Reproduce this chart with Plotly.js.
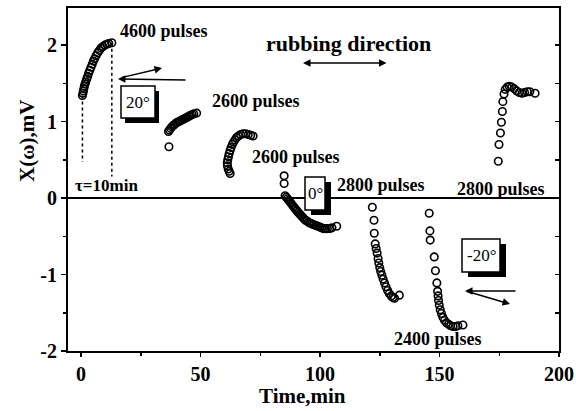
<!DOCTYPE html>
<html>
<head>
<meta charset="utf-8">
<script src="https://cdn.plot.ly/plotly-3.0.1.min.js"></script>
<style>html,body{margin:0;padding:0;background:#fff;}#chart{width:576px;height:411px;}</style>
</head>
<body>
<div id="chart"></div>
<script>
// ---- data (Time in min, X(omega) in mV) ----
const seg1X = [0.6, 0.8, 1.0, 1.2, 1.4, 1.7, 2.0, 2.4, 2.8, 3.2, 3.7, 4.2, 4.7, 5.2, 5.7, 6.3, 7.0, 7.7, 8.4, 9.2, 10.0, 10.8, 11.6, 12.9];
const seg1Y = [1.34, 1.37, 1.40, 1.43, 1.46, 1.49, 1.52, 1.56, 1.59, 1.63, 1.67, 1.71, 1.75, 1.79, 1.82, 1.86, 1.90, 1.93, 1.96, 1.98, 2.00, 2.01, 2.02, 2.03];

const seg2X = [36.8, 36.6, 37.0, 37.5, 38.0, 38.6, 39.2, 39.8, 40.4, 41.0, 41.6, 42.2, 42.8, 43.4, 44.0, 44.6, 45.2, 45.8, 46.5, 47.2, 48.4];
const seg2Y = [0.67, 0.87, 0.89, 0.91, 0.93, 0.95, 0.96, 0.98, 0.99, 1.00, 1.01, 1.02, 1.03, 1.04, 1.05, 1.06, 1.07, 1.08, 1.09, 1.10, 1.11];

const seg3X = [62.4, 62.0, 61.6, 61.3, 61.2, 61.4, 61.7, 62.0, 62.4, 62.8, 63.3, 63.8, 64.4, 65.1, 65.9, 66.8, 67.8, 68.9, 70.0, 71.0, 72.0];
const seg3Y = [0.32, 0.35, 0.38, 0.42, 0.46, 0.50, 0.54, 0.58, 0.62, 0.66, 0.70, 0.73, 0.76, 0.79, 0.81, 0.83, 0.84, 0.84, 0.83, 0.82, 0.81];

const seg4X = [85.0, 85.0, 85.4, 85.9, 86.4, 86.9, 87.4, 87.9, 88.4, 88.9, 89.4, 89.9, 90.4, 90.9, 91.5, 92.1, 92.7, 93.3, 93.9, 94.6, 95.3, 96.0, 96.7, 97.5, 98.3, 99.1, 99.9, 100.7, 101.5, 102.3, 103.1, 104.0, 105.0, 107.0];
const seg4Y = [0.29, 0.19, 0.03, 0.01, -0.01, -0.03, -0.05, -0.07, -0.09, -0.11, -0.13, -0.15, -0.17, -0.19, -0.21, -0.23, -0.25, -0.27, -0.29, -0.30, -0.32, -0.33, -0.34, -0.35, -0.36, -0.37, -0.38, -0.39, -0.40, -0.40, -0.40, -0.40, -0.39, -0.37];

const seg5X = [121.9, 122.6, 122.7, 123.1, 123.5, 123.9, 124.3, 124.6, 125.0, 125.4, 125.9, 126.4, 127.0, 127.6, 128.3, 129.0, 129.8, 130.5, 131.2, 133.2];
const seg5Y = [-0.12, -0.29, -0.46, -0.60, -0.66, -0.72, -0.79, -0.85, -0.91, -0.96, -1.01, -1.06, -1.11, -1.16, -1.21, -1.25, -1.28, -1.30, -1.31, -1.27];

const seg6X = [145.7, 146.0, 146.1, 147.8, 148.3, 148.9, 149.2, 149.4, 149.6, 149.9, 150.3, 150.8, 151.4, 152.1, 152.9, 153.8, 154.7, 155.7, 156.7, 157.7, 159.8];
const seg6Y = [-0.20, -0.43, -0.55, -0.77, -0.95, -1.11, -1.22, -1.28, -1.34, -1.40, -1.46, -1.51, -1.56, -1.60, -1.63, -1.65, -1.67, -1.68, -1.68, -1.67, -1.66];

const seg7X = [174.6, 174.9, 175.5, 175.9, 176.3, 176.5, 177.0, 177.5, 178.3, 179.2, 180.2, 181.2, 182.3, 183.4, 184.5, 185.6, 186.7, 187.8, 190.0];
const seg7Y = [0.48, 0.70, 0.85, 0.99, 1.13, 1.26, 1.36, 1.42, 1.45, 1.46, 1.45, 1.43, 1.40, 1.38, 1.37, 1.38, 1.39, 1.39, 1.37];

const xTicks = [0, 50, 100, 150, 200];
const yTicks = [-2, -1, 0, 1, 2];

const xTitle = "Time,min";
const yTitle = "X(\u03c9),mV";
const labelTexts = {
  p4600: "4600 pulses", p2600a: "2600 pulses", p2600b: "2600 pulses",
  p2800a: "2800 pulses", p2800b: "2800 pulses", p2400: "2400 pulses",
  rub: "rubbing direction", tau: "\u03c4=10min",
  b20: "20\u00b0", b0: "0\u00b0", bm20: "-20\u00b0"
};

// ---- styling / layout ----
const FONT = '"Liberation Serif", "Times New Roman", serif';
const L = 68, R = 559, T = 8, B = 351;
const PX = p => (p - L) / (R - L);
const PY = p => (B - p) / (B - T);

const segs = [[seg1X, seg1Y], [seg2X, seg2Y], [seg3X, seg3Y], [seg4X, seg4Y], [seg5X, seg5Y], [seg6X, seg6Y], [seg7X, seg7Y]];
const traces = segs.map(s => ({
  x: s[0], y: s[1], type: 'scatter', mode: 'markers', showlegend: false,
  marker: {symbol: 'circle-open', size: 7.5, color: '#000', line: {width: 1.6, color: '#000'}},
  hoverinfo: 'skip'
}));

function label(text, px, py, size, bold, angle) {
  return {text: (bold === false ? text : '<b>' + text + '</b>'), xref: 'paper', yref: 'paper', x: PX(px), y: PY(py),
    xanchor: 'center', yanchor: 'middle', showarrow: false, textangle: angle || 0,
    font: {family: FONT, size: size || 18, color: '#000'}};
}
function arrow(hx, hy, tx, ty, both) {
  return {text: '', xref: 'paper', yref: 'paper', x: PX(hx), y: PY(hy),
    ax: tx - hx, ay: ty - hy, showarrow: true, arrowhead: 2, startarrowhead: 2,
    arrowside: both ? 'end+start' : 'end', arrowsize: 1, arrowwidth: 1.5,
    arrowcolor: '#000', standoff: 0, startstandoff: 0};
}
function box(x0, y0, x1, y1, sdx, sdy) {
  return [
    {type: 'rect', xref: 'paper', yref: 'paper', x0: PX(x0 + sdx), x1: PX(x1 + sdx), y0: PY(y0 + sdy), y1: PY(y1 + sdy),
     fillcolor: '#000', line: {width: 0}, layer: 'above'},
    {type: 'rect', xref: 'paper', yref: 'paper', x0: PX(x0), x1: PX(x1), y0: PY(y0), y1: PY(y1),
     fillcolor: '#fff', line: {width: 1.5, color: '#000'}, layer: 'above'}
  ];
}

const shapes = [
  {type: 'line', xref: 'x', yref: 'y', x0: seg1X[0], x1: seg1X[0], y0: seg1Y[0], y1: 0.47,
   line: {color: '#000', width: 1.5, dash: 'dot'}},
  {type: 'line', xref: 'x', yref: 'y', x0: seg1X[seg1X.length - 1], x1: seg1X[seg1X.length - 1], y0: seg1Y[seg1Y.length - 1], y1: 0.28,
   line: {color: '#000', width: 1.5, dash: 'dot'}}
].concat(box(121, 86, 155, 118, 4, 5), box(305, 177, 325, 210, 6, 5), box(462, 239, 500, 272, 6, 5));

const annotations = [
  label(labelTexts.p4600, 164, 31),
  label(labelTexts.p2600a, 256, 101),
  label(labelTexts.p2600b, 296, 157),
  label(labelTexts.p2800a, 381, 185),
  label(labelTexts.p2800b, 501, 189),
  label(labelTexts.p2400, 438, 339),
  label(labelTexts.rub, 348, 43, 22),
  label(labelTexts.tau, 106, 185, 17),
  label(labelTexts.b20, 138, 102, 17, false),
  label(labelTexts.b0, 315, 193, 17, false),
  label(labelTexts.bm20, 481, 255, 17, false),
  label(xTitle, 302, 396, 21),
  label(yTitle, 27, 141, 21, true, -90),
  arrow(303, 63, 388, 63, true),
  arrow(118, 79, 187, 80, false),
  arrow(162, 68, 120, 78, false),
  arrow(465, 291, 517, 291, false),
  arrow(510, 304, 466, 291, false)
];

const layout = {
  width: 576, height: 411,
  margin: {l: L, r: 576 - R, t: T, b: 411 - B, pad: 0},
  paper_bgcolor: '#fff', plot_bgcolor: '#fff',
  font: {family: FONT, color: '#000'},
  xaxis: {
    range: [-5.44, 200], tickmode: 'array', tickvals: xTicks, ticktext: xTicks.map(v => '<b>' + v + '</b>'),
    ticks: 'outside', ticklen: 4, tickwidth: 1.5, tickcolor: '#000',
    minor: {ticks: 'outside', dtick: 25, ticklen: 3, tickwidth: 1.5, tickcolor: '#000'},
    showline: true, linewidth: 2, linecolor: '#000', mirror: true,
    showgrid: false, zeroline: false,
    tickfont: {family: FONT, size: 20, color: '#000'}
  },
  yaxis: {
    range: [-2, 2.484], tickmode: 'array', tickvals: yTicks, ticktext: yTicks.map(v => '<b>' + v + '</b>'),
    ticks: 'outside', ticklen: 5, tickwidth: 1.5, tickcolor: '#000',
    minor: {ticks: 'outside', dtick: 0.5, ticklen: 3, tickwidth: 1.5, tickcolor: '#000'},
    showline: true, linewidth: 2, linecolor: '#000', mirror: true,
    showgrid: false, zeroline: true, zerolinecolor: '#000', zerolinewidth: 1.5,
    tickfont: {family: FONT, size: 20, color: '#000'}
  },
  yaxis2: {
    overlaying: 'y', side: 'right', anchor: 'x', range: [-2, 2.484], dtick: 0.5, tick0: 0,
    ticks: 'inside', ticklen: 4, tickwidth: 1.5, tickcolor: '#000',
    showticklabels: false, showline: false, showgrid: false, zeroline: false
  },
  shapes: shapes,
  annotations: annotations
};

traces.push({x: [], y: [], yaxis: 'y2', type: 'scatter', mode: 'markers', showlegend: false, hoverinfo: 'skip'});

Plotly.newPlot('chart', traces, layout, {displayModeBar: false, staticPlot: true});
</script>
</body>
</html>
